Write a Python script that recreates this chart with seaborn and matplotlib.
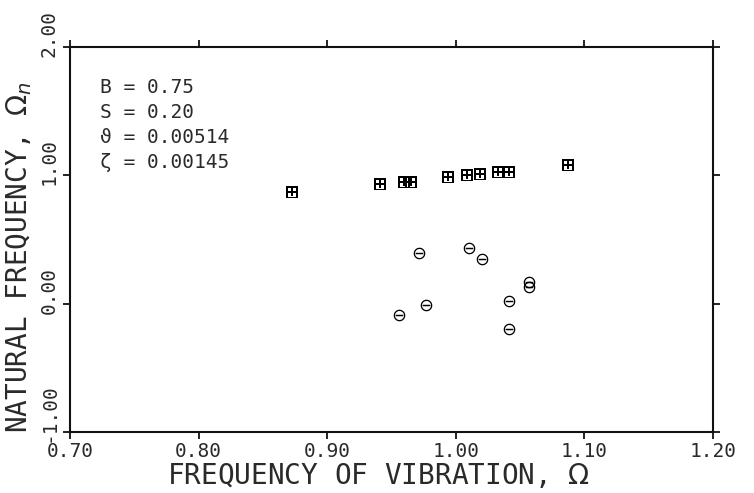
import matplotlib
matplotlib.use("Agg")
import matplotlib.pyplot as plt
import matplotlib.transforms as mtransforms
import numpy as np
import pandas as pd
import seaborn as sns

# ---- data ----
sq_x = [0.873, 0.941, 0.960, 0.965, 0.994, 1.009, 1.019, 1.033, 1.041, 1.087]
sq_y = [0.868, 0.930, 0.946, 0.946, 0.984, 1.000, 1.008, 1.023, 1.023, 1.078]
ci_x = [0.956, 0.971, 0.977, 1.010, 1.020, 1.041, 1.041, 1.057, 1.057]
ci_y = [-0.089, 0.393, -0.012, 0.432, 0.346, 0.019, -0.198, 0.167, 0.128]

x_ticks = [0.70, 0.80, 0.90, 1.00, 1.10, 1.20]
x_tick_labels = ["0.70", "0.80", "0.90", "1.00", "1.10", "1.20"]
y_ticks = [-1.0, 0.0, 1.0, 2.0]
y_tick_labels = ["-1.00", "0.00", "1.00", "2.00"]
param_lines = ["B = 0.75", "S = 0.20", "\u03d1 = 0.00514", "\u03b6 = 0.00145"]

df_sq = pd.DataFrame({"Omega": sq_x, "Omega_n": sq_y})
df_ci = pd.DataFrame({"Omega": ci_x, "Omega_n": ci_y})

sns.set_theme(style="ticks")
mono = ["DejaVu Sans Mono", "DejaVu Sans"]
plt.rcParams["font.family"] = mono
plt.rcParams["mathtext.fontset"] = "dejavusans"

txt_col = "#2a2a2a"

fig = plt.figure(figsize=(7.54, 4.93), dpi=100)
ax = fig.add_axes([70 / 754, 1 - 432 / 493, (713 - 70) / 754, (432 - 47) / 493])

sns.scatterplot(data=df_sq, x="Omega", y="Omega_n", marker=r"$\boxplus$",
                s=70, color="black", linewidth=0, ax=ax, legend=False)
sns.scatterplot(data=df_ci, x="Omega", y="Omega_n", marker=r"$\ominus$",
                s=70, color="black", linewidth=0, ax=ax, legend=False)

ax.set_xlim(0.70, 1.20)
ax.set_ylim(-1.0, 2.0)
ax.set_xticks(x_ticks)
ax.set_xticklabels(x_tick_labels, fontsize=14, color=txt_col)
ax.set_yticks(y_ticks)
ax.set_yticklabels(y_tick_labels, fontsize=14, color=txt_col, rotation=90,
                   va="bottom", ha="center")

for side in ["left", "right", "top", "bottom"]:
    ax.spines[side].set_visible(True)
    ax.spines[side].set_linewidth(1.5)
    ax.spines[side].set_color("#111111")

ax.tick_params(axis="both", which="both", direction="out", length=5, width=1.3,
               color="#111111", top=True, right=True, labeltop=False,
               labelright=False)
ax.tick_params(axis="y", pad=10)
ax.tick_params(axis="x", pad=2)

offset = mtransforms.ScaledTranslation(0, -10 / 100, fig.dpi_scale_trans)
for lab in ax.get_yticklabels():
    lab.set_transform(lab.get_transform() + offset)

ax.set_xlabel(r"FREQUENCY OF VIBRATION, $\Omega$", fontsize=20, color=txt_col,
              labelpad=0)
ax.set_ylabel(r"NATURAL FREQUENCY, $\Omega_{n}$", fontsize=20, color=txt_col,
              labelpad=2)
ax.yaxis.set_label_coords(-0.056, 0.455)
ax.xaxis.set_label_coords(0.48, -0.075)

ys = [0.896, 0.829, 0.764, 0.699]
for txt, yy in zip(param_lines, ys):
    ax.text(0.047, yy, txt, transform=ax.transAxes, fontsize=14,
            color=txt_col, va="center", ha="left", family=mono)

fig.savefig("out.png", dpi=100, facecolor="white")
